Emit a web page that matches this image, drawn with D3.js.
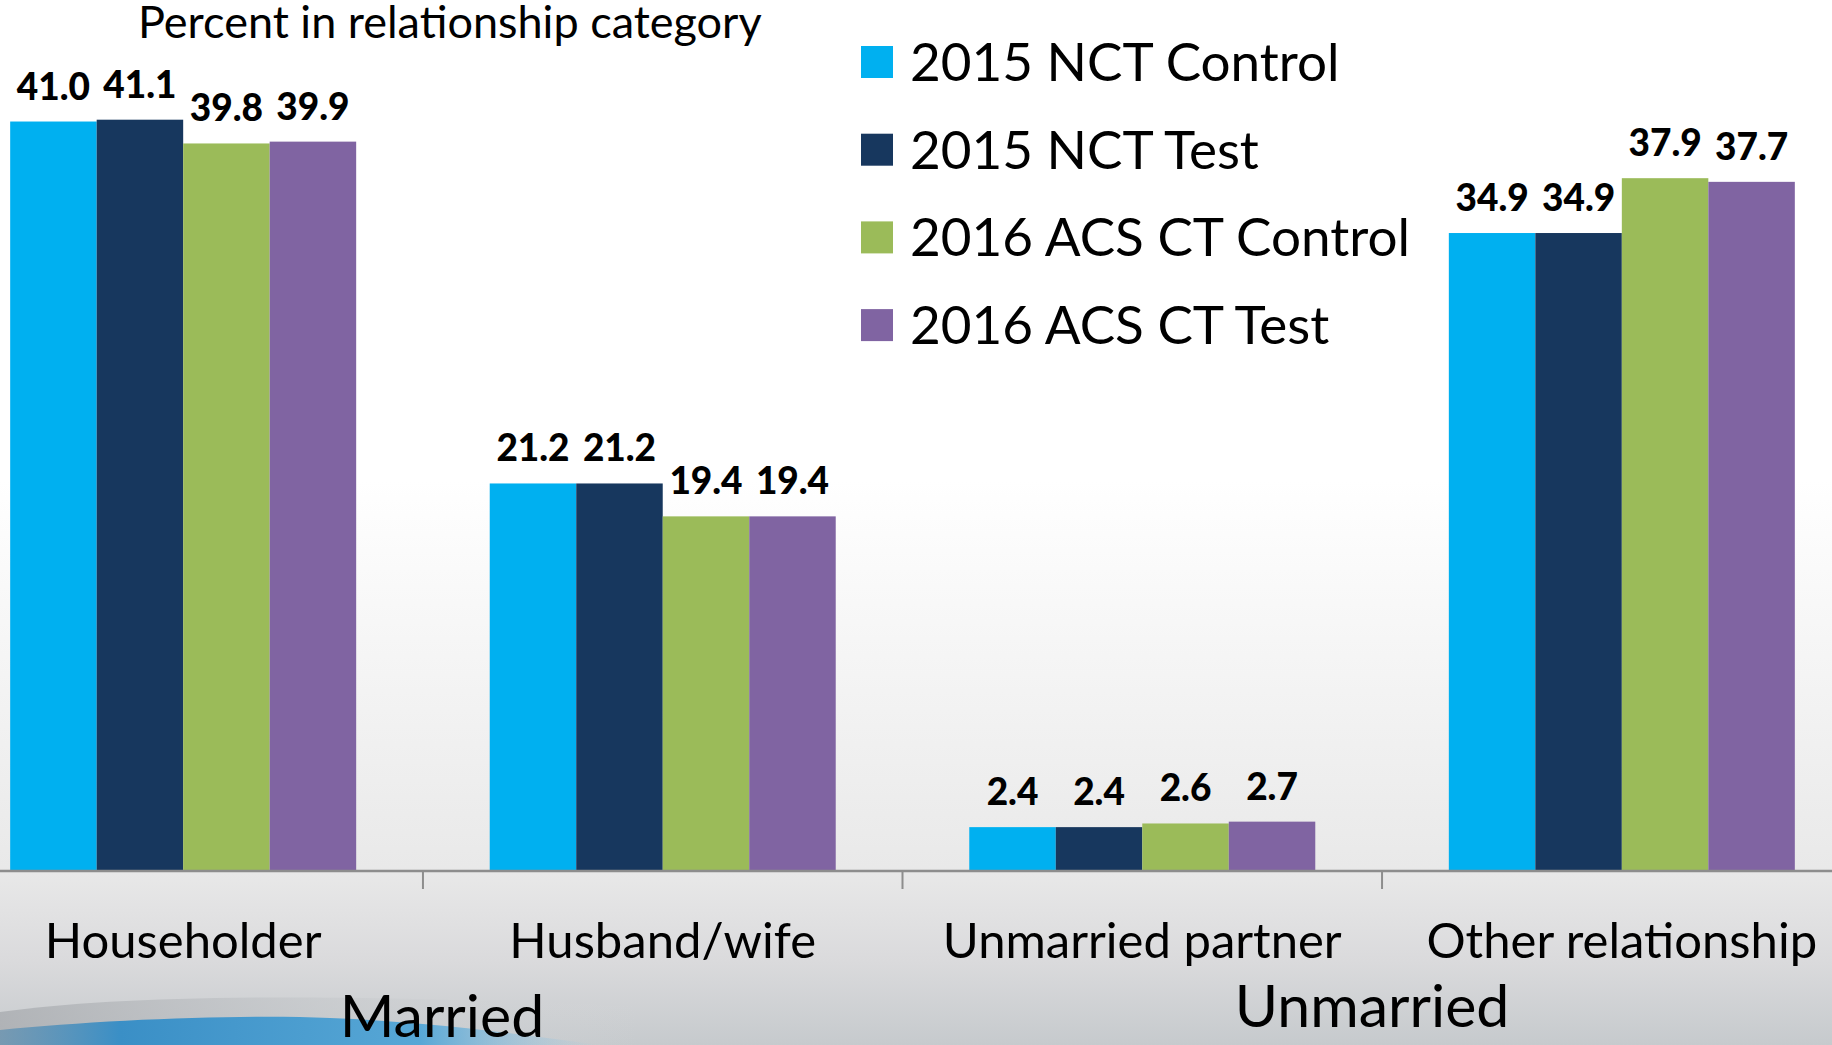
<!DOCTYPE html>
<html>
<head>
<meta charset="utf-8">
<script src="https://cdn.jsdelivr.net/npm/d3@7"></script>
<style>
    html, body { margin: 0; padding: 0; overflow: hidden; }
    svg { display: block; font-family: Lato, 'Open Sans', sans-serif; }
</style>
</head>
<body>
<div class="viz"></div>
<script>
const categories = ['Householder', 'Husband/wife', 'Unmarried partner', 'Other relationship'];
const seriesNames = ['2015 NCT Control', '2015 NCT Test', '2016 ACS CT Control', '2016 ACS CT Test'];

const nctControl = [41.0, 21.2, 2.4, 34.9];
const nctTest = [41.1, 21.2, 2.4, 34.9];
const acsControl = [39.8, 19.4, 2.6, 37.9];
const acsTest = [39.9, 19.4, 2.7, 37.7];

const groupLabels = ['Married', 'Unmarried'];
const title = 'Percent in relationship category';

const palette = {
    '2015 NCT Control': '#00b0f0',
    '2015 NCT Test': '#17375e',
    '2016 ACS CT Control': '#9bbb59',
    '2016 ACS CT Test': '#8064a2'
};

const width = 1832;
const height = 1045;
const baseline = 871;

const seriesValues = [nctControl, nctTest, acsControl, acsTest];
const rows = [];
categories.forEach((cat, i) => {
    seriesNames.forEach((s, j) => {
        rows.push({ cat: cat, serie: s, value: seriesValues[j][i] });
    });
});

const svg = d3.select('.viz')
    .append('svg')
    .attr('width', width)
    .attr('height', height);

// background of the slide
const defs = svg.append('defs');
const bg = defs.append('linearGradient')
    .attr('id', 'bg')
    .attr('x1', 0).attr('y1', 0).attr('x2', 0).attr('y2', 1);
bg.append('stop').attr('offset', '0%').attr('stop-color', '#ffffff');
bg.append('stop').attr('offset', '46%').attr('stop-color', '#ffffff');
bg.append('stop').attr('offset', '83%').attr('stop-color', '#e9e9e9');
bg.append('stop').attr('offset', '92%').attr('stop-color', '#dadadc');
bg.append('stop').attr('offset', '100%').attr('stop-color', '#c6cacd');

const band = defs.append('linearGradient')
    .attr('id', 'band')
    .attr('x1', 0).attr('y1', 0).attr('x2', 1).attr('y2', 0);
band.append('stop').attr('offset', '0%').attr('stop-color', '#a9acb0').attr('stop-opacity', 0.8);
band.append('stop').attr('offset', '50%').attr('stop-color', '#c4c7ca').attr('stop-opacity', 0.6);
band.append('stop').attr('offset', '100%').attr('stop-color', '#d8d9db').attr('stop-opacity', 0);

const swoosh = defs.append('linearGradient')
    .attr('id', 'swoosh')
    .attr('x1', 0).attr('y1', 0).attr('x2', 1).attr('y2', 0);
swoosh.append('stop').attr('offset', '0%').attr('stop-color', '#5f8fb0').attr('stop-opacity', 0.7);
swoosh.append('stop').attr('offset', '20%').attr('stop-color', '#3a8fc6');
swoosh.append('stop').attr('offset', '70%').attr('stop-color', '#57a7d6');
swoosh.append('stop').attr('offset', '100%').attr('stop-color', '#9fcbe6').attr('stop-opacity', 0);

svg.append('rect')
    .attr('width', width)
    .attr('height', height)
    .attr('fill', 'url(#bg)');

svg.append('path')
    .attr('d', 'M0,1045 L0,1012 C120,996 300,992 640,1006 L640,1045 Z')
    .attr('fill', 'url(#band)');
svg.append('path')
    .attr('d', 'M0,1045 L0,1030 C100,1020 240,1014 330,1018 C430,1022 520,1034 600,1045 Z')
    .attr('fill', 'url(#swoosh)');

// scales
const x0 = d3.scaleBand()
    .domain(categories)
    .range([-56.6, 1861.6])
    .paddingInner(0)
    .paddingOuter(0);

const x1 = d3.scaleBand()
    .domain(seriesNames)
    .range([0, x0.bandwidth()])
    .paddingInner(0)
    .paddingOuter(0.772);

const y = d3.scaleLinear()
    .domain([0, 45])
    .range([baseline, baseline - 45 * 18.28]);

// bars
const bars = svg.append('g').selectAll('.bar')
    .data(rows)
    .enter();

bars.append('rect')
    .classed('bar', true)
    .attr('x', d => x0(d.cat) + x1(d.serie))
    .attr('y', d => y(d.value))
    .attr('width', x1.bandwidth())
    .attr('height', d => y(0) - y(d.value))
    .attr('fill', d => palette[d.serie]);

bars.append('text')
    .classed('value', true)
    .attr('x', d => x0(d.cat) + x1(d.serie) + x1.bandwidth() / 2)
    .attr('y', d => y(d.value) - 22)
    .attr('text-anchor', 'middle')
    .style('font-size', '37px')
    .style('font-weight', 900)
    .text(d => d.value.toFixed(1));

// axis line and ticks between categories
svg.append('line')
    .attr('x1', 0)
    .attr('x2', width)
    .attr('y1', baseline)
    .attr('y2', baseline)
    .attr('stroke', '#8d8d8d')
    .attr('stroke-width', 2.5);

svg.append('g').selectAll('.tick')
    .data(categories.slice(1))
    .enter()
    .append('line')
        .classed('tick', true)
        .attr('x1', d => x0(d))
        .attr('x2', d => x0(d))
        .attr('y1', baseline)
        .attr('y2', baseline + 18)
        .attr('stroke', '#8d8d8d')
        .attr('stroke-width', 2);

svg.append('g').selectAll('.cat')
    .data(categories)
    .enter()
    .append('text')
        .classed('cat', true)
        .attr('x', d => x0(d) + x0.bandwidth() / 2)
        .attr('y', 958)
        .attr('text-anchor', 'middle')
        .style('font-size', '49px')
        .text(d => d);

// Married spans the first two categories, Unmarried the last two
svg.append('g').selectAll('.group')
    .data(groupLabels)
    .enter()
    .append('text')
        .classed('group', true)
        .attr('x', (d, i) => x0(categories[i * 2 + 1]) + (i == 0 ? 19 : -10))
        .attr('y', (d, i) => i == 0 ? 1037 : 1027)
        .attr('text-anchor', 'middle')
        .style('font-size', '59px')
        .text(d => d);

svg.append('text')
    .attr('x', 138)
    .attr('y', 38)
    .style('font-size', '45px')
    .text(title);

// legend
const legend = svg.append('g').selectAll('.legend')
    .data(seriesNames)
    .enter()
    .append('g')
        .classed('legend', true)
        .attr('transform', (d, i) => 'translate(861,' + (62 + i * 87.7) + ')');

legend.append('rect')
    .attr('x', 0)
    .attr('y', -16)
    .attr('width', 32)
    .attr('height', 32)
    .attr('fill', d => palette[d]);

legend.append('text')
    .attr('x', 49)
    .attr('y', 19)
    .style('font-size', '53px')
    .text(d => d);
</script>
</body>
</html>
